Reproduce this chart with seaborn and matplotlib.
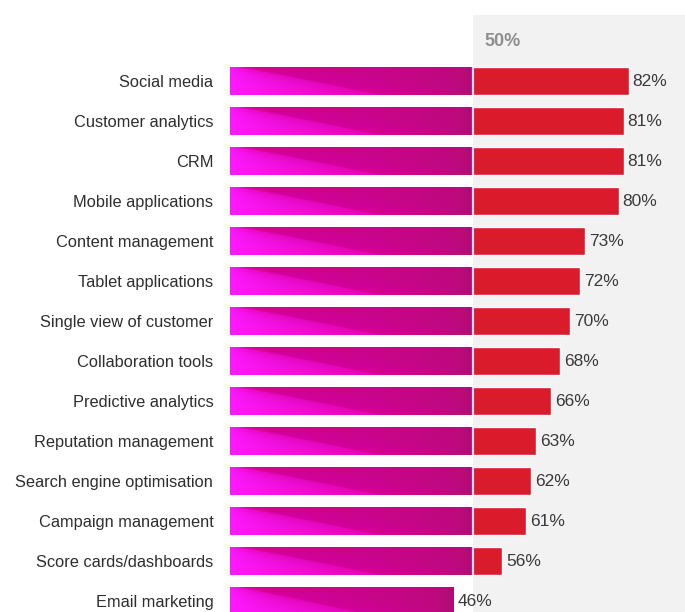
import numpy as np
import pandas as pd
import matplotlib
matplotlib.use("Agg")
import matplotlib.pyplot as plt
import seaborn as sns
from matplotlib.colors import to_rgb
from matplotlib.patches import Rectangle

categories = [
    "Social media", "Customer analytics", "CRM", "Mobile applications",
    "Content management", "Tablet applications", "Single view of customer",
    "Collaboration tools", "Predictive analytics", "Reputation management",
    "Search engine optimisation", "Campaign management",
    "Score cards/dashboards", "Email marketing",
]
values = [82, 81, 81, 80, 73, 72, 70, 68, 66, 63, 62, 61, 56, 46]
threshold = 50
threshold_label = "50%"

sns.set_theme(style="white")
plt.rcParams["font.family"] = ["Liberation Sans", "DejaVu Sans"]

df = pd.DataFrame({"category": categories, "value": values})

W, H = 685, 612
fig = plt.figure(figsize=(W / 100, H / 100), dpi=100)
px_per_unit = 243 / 50.0
x0_px = 230
ax = fig.add_axes([x0_px / W, 0, 1 - x0_px / W, 1])
xmax = (W - x0_px) / px_per_unit
row0_px, row_step = 81, 40
ytop = (0 - row0_px) / row_step
ybot = (H - row0_px) / row_step

red = "#d91b2b"
sns.barplot(data=df, x="value", y="category", orient="h", color=red,
            width=0.68, saturation=1, ax=ax, zorder=2)
bars = list(ax.patches)

# shaded zone beyond the threshold
gray_top = (15 - row0_px) / row_step
ax.add_patch(Rectangle((threshold, gray_top), xmax - threshold, ybot - gray_top,
                       facecolor="#f2f2f2", edgecolor="none", zorder=0))


# magenta gradient for the part below the threshold
def gradient_img(nx=300, ny=40):
    s = np.linspace(0, 1, nx)[None, :]
    t = np.linspace(0, 1, ny)[:, None]
    line = 0.06 + 0.55 * t
    bright_a, bright_b = np.array(to_rgb("#ff18ff")), np.array(to_rgb("#e206b8"))
    dark_a, dark_b = np.array(to_rgb("#d4009c")), np.array(to_rgb("#bc0a7a"))
    fb = np.clip(s / np.maximum(line, 1e-3), 0, 1)[..., None]
    bright = bright_a * (1 - fb) + bright_b * fb
    fd = np.clip((s - line) / np.maximum(1 - line, 1e-3), 0, 1)[..., None]
    dark = dark_a * (1 - fd) + dark_b * fd
    w = np.clip((line - s) / 0.02 + 0.5, 0, 1)[..., None]
    img = bright * w + dark * (1 - w)
    # darker right end
    edge = np.clip((s - 0.93) / 0.07, 0, 1)[..., None] * 0.3
    img = img * (1 - edge) + np.array(to_rgb("#8e1262")) * edge
    return img


img = gradient_img()
for p, v in zip(bars, values):
    y0, h = p.get_y(), p.get_height()
    xe = min(v, threshold)
    ax.imshow(img, extent=(0, xe, y0 + h, y0), aspect="auto", zorder=3,
              interpolation="bilinear", origin="upper")
    if v > threshold:
        ax.plot([threshold, threshold], [y0, y0 + h], color="#f6dbe6", lw=1.6,
                zorder=4, solid_capstyle="butt")
    ax.text(v + 0.8, y0 + h / 2, f"{v}%", va="center", ha="left",
            fontsize=12.5, color="#3a3a3a", zorder=5)

ax.text(threshold + 2.4, (41 - row0_px) / row_step, threshold_label,
        va="center", ha="left", fontsize=13, fontweight="bold", color="#8f8f8f")

ax.set_xlim(0, xmax)
ax.set_ylim(ybot, ytop)
ax.set_aspect("auto")
ax.set_xlabel("")
ax.set_ylabel("")
ax.set_xticks([])
ax.tick_params(axis="y", length=0, pad=12)
for lbl in ax.get_yticklabels():
    lbl.set_fontsize(11.8)
    lbl.set_color("#2e2e2e")
sns.despine(ax=ax, left=True, bottom=True)

fig.savefig("out.png", dpi=100)
